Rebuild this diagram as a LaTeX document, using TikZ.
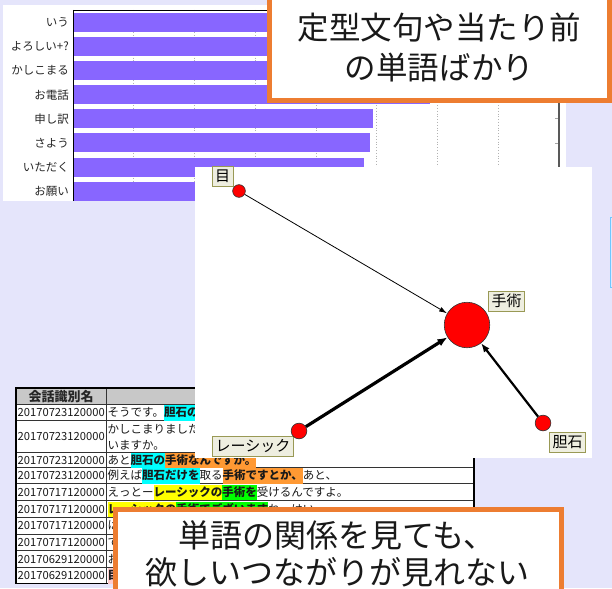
\documentclass[tikz,border=0pt]{standalone}
\usepackage{fontspec}
\setmainfont{Noto Sans CJK JP}
\usetikzlibrary{arrows.meta}
\definecolor{bgl}{RGB}{229,229,251}
\definecolor{barp}{RGB}{136,102,255}
\definecolor{orng}{RGB}{237,125,49}
\definecolor{hlcyan}{RGB}{0,255,255}
\definecolor{hlorange}{RGB}{255,153,51}
\definecolor{hlyellow}{RGB}{255,255,0}
\definecolor{hlgreen}{RGB}{0,255,0}
\definecolor{hlpink}{RGB}{255,204,204}
\definecolor{lblfill}{RGB}{238,238,224}
\definecolor{lbldraw}{RGB}{153,153,85}
\definecolor{hdrgray}{RGB}{200,200,200}
\definecolor{lblue}{RGB}{110,200,255}
\newcommand\hlt[2]{{\setlength{\fboxsep}{0pt}\colorbox{#1}{\rule[-4pt]{0pt}{15.5pt}\bfseries #2}}}
\begin{document}
\begin{tikzpicture}[x=1pt,y=-1pt,
  barlabel/.style={anchor=east,font=\fontsize{11.5}{13}\selectfont,text=black!85,inner sep=0pt},
  gridline/.style={gray!60,dotted,line width=0.8pt},
  callout/.style={draw=orng,line width=5pt,fill=white},
  calltext/.style={align=center,text=black!90},
  vert/.style={circle,fill=red,draw=black!80,line width=0.6pt,inner sep=0pt},
  wlabel/.style={draw=lbldraw,fill=lblfill,line width=1pt,inner xsep=3pt,inner ysep=1pt,font=\fontsize{15}{17}\selectfont,minimum height=20pt,text=black},
  idcell/.style={anchor=base west,font=\fontsize{11.2}{15}\selectfont,inner sep=0pt,text=black!90},
  txtcell/.style={anchor=base west,font=\fontsize{11.5}{15}\selectfont,inner sep=0pt,text=black!90},
  tline/.style={line width=0.8pt,black!80},
]
\useasboundingbox (0,0) rectangle (612,588);
\clip (0,0) rectangle (612,588);
\fill[bgl] (0,0) rectangle (612,588);

% ---------- bar chart ----------
\fill[white] (3,5) rectangle (566,201);
\foreach \k in {1,...,7} \draw[gridline] ({73+60.75*\k},10) -- ({73+60.75*\k},201);
\foreach \lab/\len [count=\i from 0] in {いう/540, よろしい+?/515, かしこまる/480, お電話/430, 申し訳/373, さよう/370, いただく/364, お願い/355} {
  \pgfmathsetmacro\cy{22.5+24.1*\i}
  \fill[barp] (73,\cy-9.5) rectangle (\len,\cy+9.5);
  \draw[gray!70,line width=0.8pt] (555,\cy) -- (559,\cy);
  \node[barlabel] (lab\i) at (69,\cy) {\lab};
}
\draw[black,line width=0.9pt] (73,10) -- (559,10);
\draw[black,line width=0.9pt] (73,10) -- (73,201);
\draw[black!65,line width=1.8pt] (559,10) -- (559,167);

% ---------- table ----------
\fill[hdrgray] (16,388) rectangle (474,404.5);
\fill[white] (16,404.5) rectangle (474,583.5);
\foreach \yy in {404.5,420.8,452.5,467.3,483.5,500.5,517.2,534,550.7,567.3}
  \draw[tline] (16,\yy) -- (474,\yy);
\draw[tline] (106,388) -- (106,583.5);
\draw[black,line width=1.1pt] (16,388) rectangle (474,583.5);
\node[font=\fontsize{13}{15}\selectfont\bfseries,text=black!85] (hdr) at (61,396.5) {会話識別名};
\foreach \yy/\id [count=\n] in {416.8/20170723120000, 440.8/20170723120000, 464.1/20170723120000, 479.6/20170723120000, 496.2/20170717120000, 513/20170717120000, 529.8/20170717120000, 546.5/20170717120000, 563.2/20170629120000, 579.6/20170629120000}
  \node[idcell] (id\n) at (17.5,\yy) {\id};
\node[txtcell] (t1) at (107.5,416.8) {そうです。\hlt{hlcyan}{胆石の}};
\node[txtcell,align=left,font=\fontsize{11.5}{16}\selectfont,anchor=west] (t2) at (107.5,437) {かしこまりました。\\いますか。};
\node[txtcell] (t3) at (107.5,464.1) {あと\hlt{hlcyan}{胆石の}\hlt{hlorange}{手術なんですか。}};
\node[txtcell] (t4) at (107.5,479.6) {例えば\hlt{hlcyan}{胆石だけを}取る\hlt{hlorange}{手術ですとか、}あと、};
\node[txtcell] (t5) at (107.5,496.2) {えっとー\hlt{hlyellow}{レーシックの}\hlt{hlgreen}{手術を}受けるんですよ。};
\node[txtcell] (t6) at (107.5,513) {\hlt{hlyellow}{レーシックの}\hlt{hlgreen}{手術でございます}ね、はい};
\node[txtcell] (t7) at (107.5,529.8) {は};
\node[txtcell] (t8) at (107.5,546.5) {で};
\node[txtcell] (t9) at (107.5,563.2) {お};
\node[txtcell] (t10) at (107.5,579.6) {\hlt{hlpink}{目}};

% ---------- graph panel ----------
\fill[white] (195,167) rectangle (592,458);
\node[wlabel] (lme) at (222.5,176.5) {目};
\node[wlabel] (lshu) at (506.5,301) {手術};
\node[wlabel] (llas) at (253,446) {レーシック};
\node[wlabel] (ltan) at (567.5,442) {胆石};
\node[vert,minimum size=12.7pt] (me) at (239,191) {};
\node[vert,minimum size=45.5pt] (shu) at (467,325) {};
\node[vert,minimum size=15.7pt] (las) at (299,431) {};
\node[vert,minimum size=15.7pt] (tan) at (543,423) {};
\draw[line width=0.8pt,-{Latex[length=8pt,width=5pt]}] (me) -- (shu);
\draw[line width=3.2pt,-{Latex[length=10pt,width=8pt]}] (las) -- (shu);
\draw[line width=2.2pt,-{Latex[length=9pt,width=7pt]}] (tan) -- (shu);

% right edge fragment
\draw[lblue,line width=1pt] (610.8,217) rectangle (640,287);

% ---------- callouts ----------
\node[callout,minimum width=340pt,minimum height=104pt] (c1) at (439.5,49) {};
\node[calltext,font=\fontsize{31.5}{40}\selectfont] (c1t) at (439.5,47.5) {定型文句や当たり前\\の単語ばかり};
\node[callout,minimum width=446pt,minimum height=111pt] (c2) at (338,564.5) {};
\node[calltext,font=\fontsize{32}{37}\selectfont] (c2t) at (337,553.5) {単語の関係を見ても、\\欲しいつながりが見れない};
\end{tikzpicture}
\end{document}
